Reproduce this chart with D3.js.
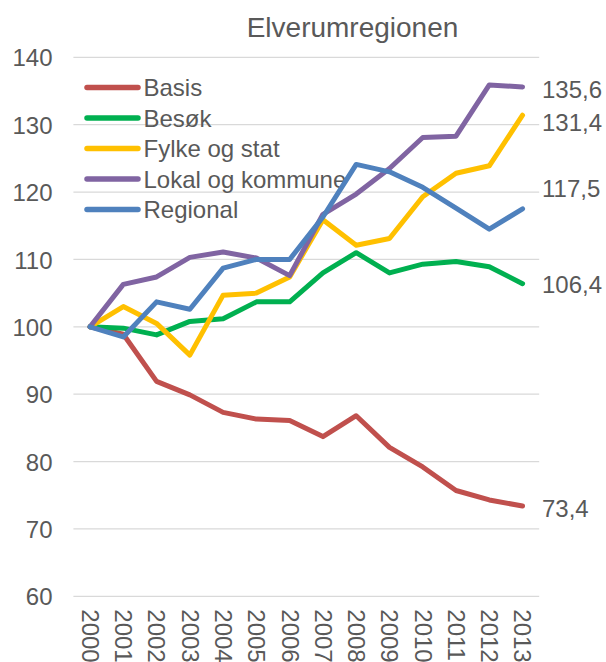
<!DOCTYPE html>
<html><head><meta charset="utf-8">
<script src="https://cdn.jsdelivr.net/npm/d3@7"></script>
<style>body{margin:0;background:#fff;} text{font-family:"Liberation Sans",Arial,sans-serif;fill:#595959;}</style>
</head><body>
<svg id="c" width="606" height="662"></svg>
<script>
(function(){
const years = ["2000","2001","2002","2003","2004","2005","2006","2007","2008","2009","2010","2011","2012","2013"];
const seriesNames = ["Basis","Besøk","Fylke og stat","Lokal og kommune","Regional"];
const basis    = [100, 98.9, 91.9, 89.9, 87.3, 86.3, 86.1, 83.7, 86.8, 82.1, 79.2, 75.7, 74.3, 73.4];
const besok    = [100, 99.8, 98.8, 100.8, 101.2, 103.7, 103.7, 108.0, 111.0, 108.0, 109.3, 109.7, 108.9, 106.4];
const fylke    = [100, 103.0, 100.5, 95.8, 104.7, 105.0, 107.4, 115.9, 112.1, 113.1, 119.3, 122.8, 123.9, 131.4];
const lokal    = [100, 106.3, 107.4, 110.3, 111.1, 110.2, 107.6, 116.7, 119.7, 123.5, 128.1, 128.3, 135.9, 135.6];
const regional = [100, 98.5, 103.7, 102.6, 108.7, 110.0, 110.0, 116.3, 124.1, 123.0, 120.7, 117.6, 114.5, 117.5];
const yTicks = [60, 70, 80, 90, 100, 110, 120, 130, 140];
const title = "Elverumregionen";

const colors = ["#C0504D", "#00B050", "#FFC000", "#8064A2", "#4F81BD"];
const allSeries = [basis, besok, fylke, lokal, regional];
const labelDy = [2, 0.3, 7.3, 2.6, -20.7];

const svg = d3.select("#c");
const pLeft = 73.4, pRight = 539.2, pTop = 57.3, pBottom = 596.3;
const x = d3.scalePoint().domain(years).range([pLeft, pRight]).padding(0.5);
const y = d3.scaleLinear().domain([60, 140]).range([pBottom, pTop]);
const fmt = v => d3.format(".1f")(v).replace(".", ",");
const FS = 24;

// gridlines
svg.append("g").selectAll("line").data(yTicks).join("line")
  .attr("x1", pLeft).attr("x2", pRight)
  .attr("y1", d => y(d)).attr("y2", d => y(d))
  .attr("stroke", "#d9d9d9").attr("stroke-width", 1.3);

// y axis labels
const yAxis = d3.axisLeft(y).tickValues(yTicks).tickSize(0).tickPadding(0);
const ya = svg.append("g").attr("transform", `translate(${52.5},0)`).call(yAxis);
ya.select(".domain").remove();
ya.selectAll("text").attr("font-size", FS).attr("fill", "#595959")
  .attr("font-family", "Liberation Sans, Arial, sans-serif").attr("dy", "0.36em");

// x axis labels rotated
const xAxis = d3.axisBottom(x).tickSize(0).tickPadding(0);
const xa = svg.append("g").attr("transform", `translate(0,${pBottom})`).call(xAxis);
xa.select(".domain").remove();
xa.selectAll("text")
  .attr("font-size", FS).attr("fill", "#595959")
  .attr("font-family", "Liberation Sans, Arial, sans-serif")
  .attr("text-anchor", "start").attr("dy", "0.36em").attr("y", 0)
  .attr("transform", "translate(0,13) rotate(90)");

// title
svg.append("text").attr("x", 352.5).attr("y", 37.3).attr("text-anchor", "middle")
  .attr("font-size", 28).text(title);

// legend
const lg = svg.append("g");
seriesNames.forEach((n, i) => {
  const ly = 87.5 + i * 30.5;
  lg.append("line").attr("x1", 87).attr("x2", 138).attr("y1", ly).attr("y2", ly)
    .attr("stroke", colors[i]).attr("stroke-width", 5.5).attr("stroke-linecap", "round");
  lg.append("text").attr("x", 143.5).attr("y", ly).attr("dy", "0.36em")
    .attr("font-size", FS).text(n);
});

// lines
const line = d3.line().x((d, i) => x(years[i])).y(d => y(d));
allSeries.forEach((s, i) => {
  svg.append("path").datum(s).attr("d", line).attr("fill", "none")
    .attr("stroke", colors[i]).attr("stroke-width", 5)
    .attr("stroke-linejoin", "round").attr("stroke-linecap", "round");
});

// end labels
allSeries.forEach((s, i) => {
  const v = s[s.length - 1];
  svg.append("text").attr("x", 542).attr("y", y(v) + labelDy[i]).attr("dy", "0.36em")
    .attr("font-size", FS).text(fmt(v));
});
})();
</script>
</body></html>
